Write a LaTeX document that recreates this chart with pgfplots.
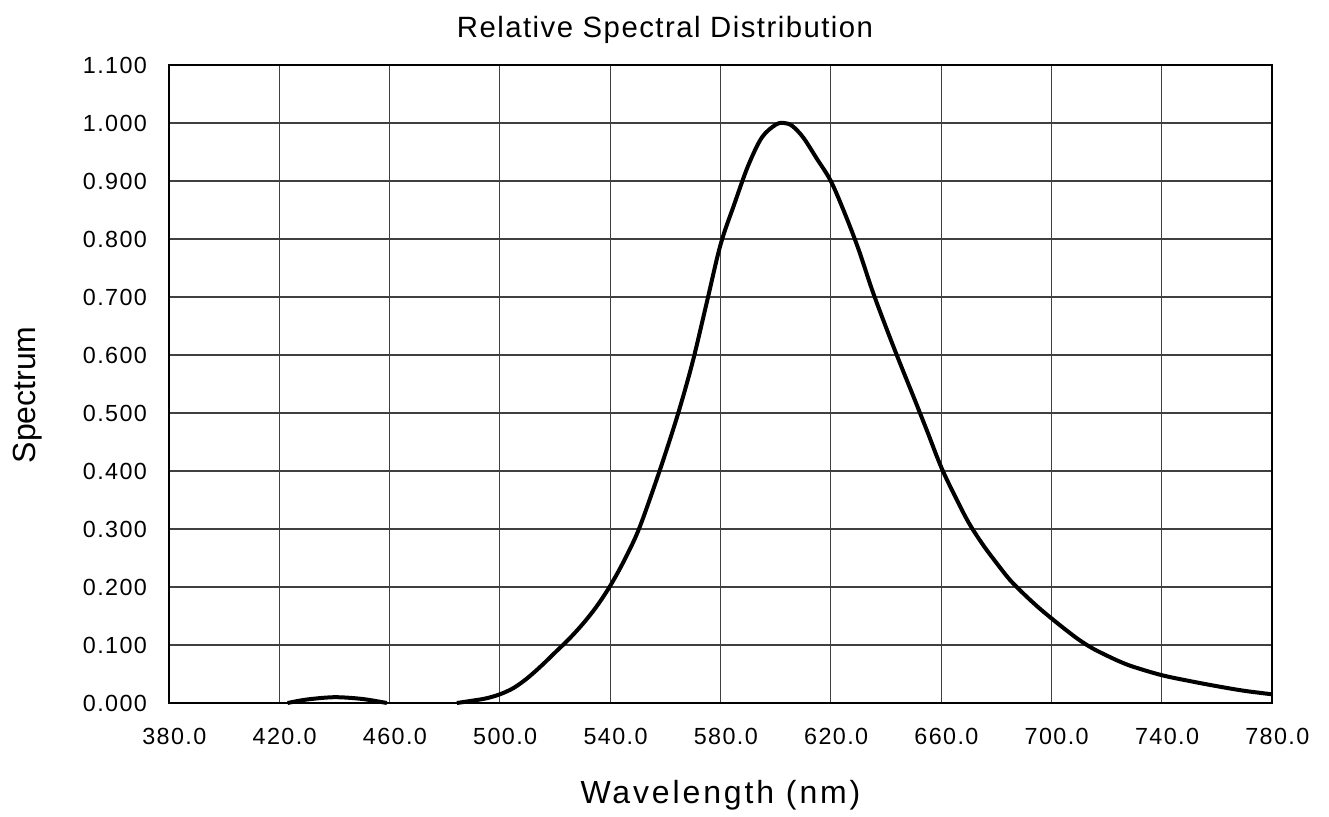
\documentclass[border=0pt]{standalone}
\usepackage{pgfplots}
\pgfplotsset{compat=1.18}
\usepackage{fontspec}
\setmainfont{Liberation Sans}
\newfontfamily\tickfont{Liberation Sans}[LetterSpace=6]
\newfontfamily\titlefont{Liberation Sans}[LetterSpace=5]
\newfontfamily\xlabelfont{Liberation Sans}[LetterSpace=9]

% 1 px of the reference = 0.75pt
\begin{document}
\begin{tikzpicture}
\begin{axis}[
    at={(0,0)}, anchor=south west,
    scale only axis,
    width=827.25pt, height=478.5pt,
    xmin=380, xmax=780,
    ymin=0, ymax=1.1,
    xtick={380,420,...,780},
    xticklabels={380.0,420.0,460.0,500.0,540.0,580.0,620.0,660.0,700.0,740.0,780.0},
    ytick={0,0.1,...,1.1},
    yticklabels={0.000,0.100,0.200,0.300,0.400,0.500,0.600,0.700,0.800,0.900,1.000,1.100},
    major tick length=0pt,
    grid=major,
    major grid style={black!75, line width=0.9pt},
    axis line style={black, line width=0.9pt},
    ticklabel style={font=\tickfont\fontsize{17.5}{19}\selectfont},
    xticklabel style={anchor=north, yshift=-15pt, xshift=4pt},
    yticklabel style={anchor=east, xshift=-13pt},
    xlabel={Wavelength (nm)},
    ylabel={Spectrum},
    xlabel style={font=\xlabelfont\fontsize{24}{26}\selectfont,
        at={(axis description cs:0.5,-0.145)}, anchor=center},
    ylabel style={font=\fontsize{24}{26}\selectfont,
        at={(axis description cs:-0.128,0.483)}, anchor=center, rotate=0},
    clip=false,
]
% small bump in the blue region
\addplot[black, line width=3pt, smooth, tension=0.5] coordinates {
    (423,0) (430,0.006) (440,0.010) (450,0.007) (459,0)
};
% main emission band
\addplot[black, line width=3pt, smooth, tension=0.55] coordinates {
    (484.4,0) (490,0.004) (495,0.008) (500,0.015) (505,0.026) (510,0.043)
    (515,0.064) (520,0.087) (525,0.110) (530,0.136) (535,0.166) (540,0.202)
    (545,0.245) (550,0.295) (555,0.360) (560,0.430) (565,0.505) (570,0.590)
    (575,0.690) (580,0.790) (585,0.860) (590,0.926) (595,0.975) (600,0.997)
    (603,1.000) (606,0.995) (610,0.975) (615,0.938) (620,0.900) (625,0.845)
    (630,0.783) (635,0.712) (640,0.648) (645,0.587) (650,0.528) (655,0.468)
    (660,0.407) (665,0.357) (670,0.311) (675,0.274) (680,0.242) (685,0.212)
    (690,0.188) (695,0.166) (700,0.146) (705,0.127) (710,0.109) (715,0.094)
    (720,0.082) (725,0.071) (730,0.062) (740,0.048) (750,0.038) (760,0.029)
    (770,0.021) (780,0.015)
};
\end{axis}
\node[font=\titlefont\fontsize{22}{24}\selectfont] at (372pt,504.75pt) {Relative Spectral Distribution};
\path[use as bounding box] (-126.75pt,-85.5pt) rectangle (870pt,527.25pt);
\end{tikzpicture}
\end{document}
